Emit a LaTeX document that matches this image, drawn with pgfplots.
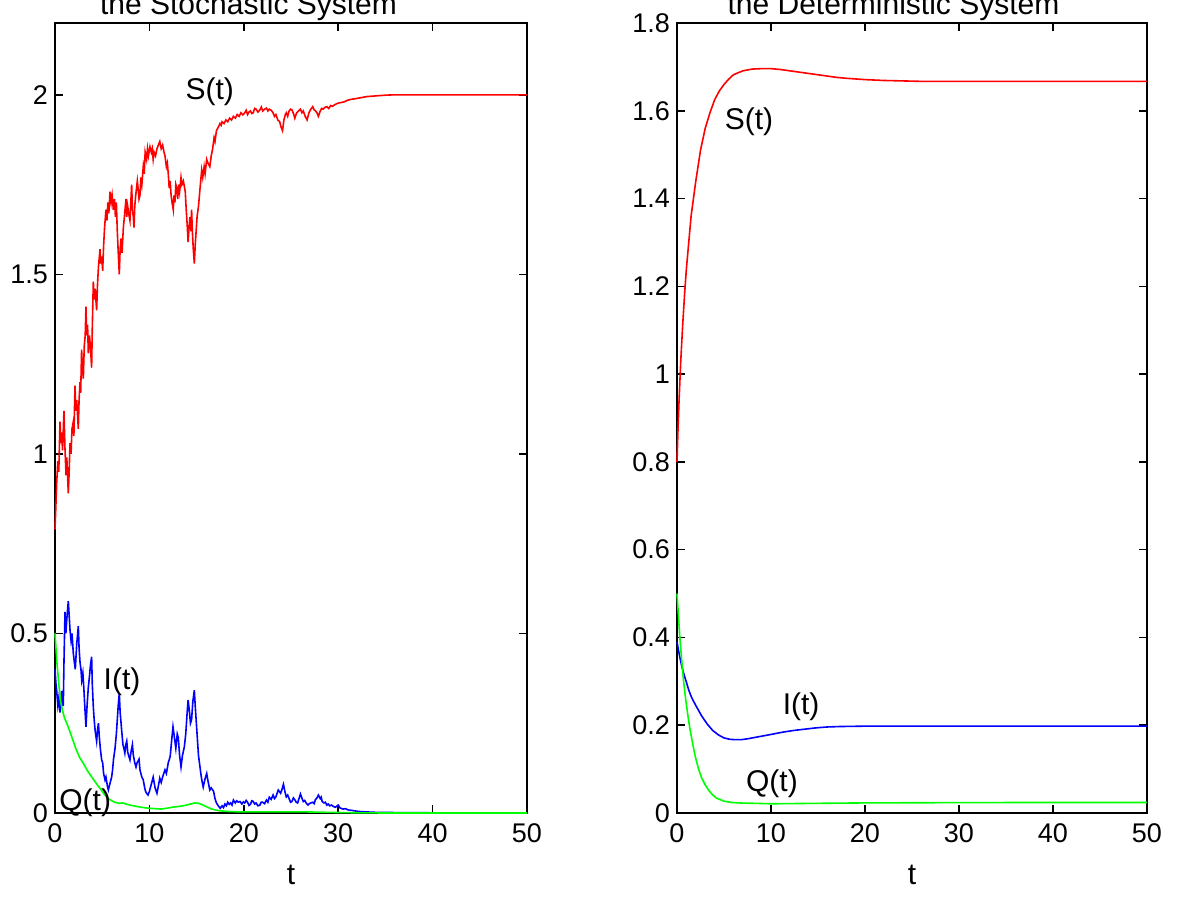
\documentclass[border=0pt]{standalone}
\usepackage{pgfplots}
\pgfplotsset{compat=1.18}
\usepackage{fontspec}
\setmainfont{Liberation Sans}

\definecolor{mred}{rgb}{1,0,0}
\definecolor{mblue}{rgb}{0,0,1}
\definecolor{mgreen}{rgb}{0,1,0}

\pgfplotstableread{
t S
0 0.79
0.1 0.86
0.18 0.92
0.3 0.98
0.4 0.95
0.53 1.09
0.62 1.03
0.7 1.06
0.8 1.01
0.95 1.12
1.05 1.02
1.17 0.94
1.25 0.99
1.41 0.89
1.5 0.95
1.59 1.03
1.7 1.00
1.8 1.07
1.94 1.09
2.0 1.05
2.12 1.19
2.2 1.12
2.3 1.15
2.47 1.07
2.55 1.15
2.65 1.20
2.72 1.17
2.82 1.29
2.9 1.24
3.0 1.21
3.1 1.30
3.2 1.33
3.28 1.41
3.35 1.33
3.45 1.36
3.53 1.28
3.65 1.33
3.75 1.30
3.88 1.24
3.95 1.35
4.06 1.48
4.15 1.43
4.25 1.46
4.41 1.40
4.5 1.47
4.6 1.52
4.77 1.57
4.85 1.53
4.95 1.55
5.05 1.51
5.15 1.58
5.25 1.63
5.40 1.68
5.5 1.65
5.6 1.70
5.7 1.67
5.83 1.73
5.95 1.70
6.05 1.72
6.18 1.68
6.3 1.71
6.4 1.66
6.5 1.70
6.6 1.62
6.7 1.56
6.81 1.50
6.9 1.57
7.0 1.60
7.1 1.56
7.24 1.63
7.35 1.66
7.52 1.71
7.6 1.66
7.7 1.69
7.8 1.67
7.94 1.65
8.03 1.70
8.12 1.75
8.2 1.68
8.3 1.66
8.37 1.63
8.45 1.69
8.55 1.72
8.72 1.76
8.8 1.74
8.9 1.71
9.0 1.72
9.1 1.77
9.2 1.75
9.35 1.80
9.45 1.78
9.55 1.84
9.7 1.82
9.8 1.85
9.9 1.83
10.06 1.855
10.2 1.84
10.3 1.85
10.4 1.82
10.5 1.84
10.65 1.83
10.8 1.85
10.95 1.86
11.1 1.87
11.25 1.85
11.4 1.86
11.55 1.84
11.65 1.83
11.8 1.80
11.9 1.81
12.0 1.78
12.1 1.74
12.2 1.76
12.3 1.72
12.4 1.70
12.53 1.68
12.6 1.72
12.7 1.70
12.8 1.75
12.9 1.74
13.0 1.71
13.1 1.75
13.2 1.73
13.35 1.77
13.45 1.75
13.6 1.76
13.8 1.73
13.9 1.68
14.0 1.64
14.1 1.59
14.2 1.63
14.3 1.66
14.4 1.62
14.47 1.68
14.55 1.62
14.65 1.57
14.76 1.53
14.85 1.58
14.95 1.62
15.05 1.66
15.2 1.69
15.3 1.72
15.4 1.75
15.54 1.79
15.65 1.77
15.8 1.80
15.9 1.78
16.07 1.82
16.2 1.81
16.4 1.80
16.55 1.83
16.7 1.85
16.85 1.88
16.95 1.87
17.1 1.90
17.3 1.91
17.48 1.92
17.6 1.915
17.7 1.925
17.9 1.92
18.1 1.93
18.3 1.925
18.5 1.935
18.7 1.93
18.9 1.94
19.1 1.935
19.3 1.945
19.5 1.94
19.7 1.95
19.9 1.944
20.1 1.95
20.25 1.957
20.4 1.945
20.55 1.952
20.7 1.955
20.85 1.948
21.0 1.95
21.15 1.962
21.3 1.96
21.5 1.952
21.7 1.958
21.85 1.966
22.0 1.955
22.2 1.96
22.4 1.963
22.55 1.955
22.7 1.96
22.9 1.957
23.1 1.95
23.25 1.94
23.4 1.945
23.6 1.93
23.8 1.925
23.95 1.91
24.1 1.90
24.25 1.93
24.4 1.945
24.5 1.95
24.65 1.94
24.8 1.955
24.95 1.96
25.1 1.958
25.3 1.945
25.4 1.935
25.6 1.95
25.8 1.955
26.0 1.96
26.15 1.95
26.3 1.955
26.5 1.94
26.7 1.93
26.9 1.95
27.1 1.96
27.3 1.967
27.45 1.958
27.6 1.955
27.75 1.95
27.9 1.94
28.1 1.955
28.25 1.962
28.4 1.96
28.6 1.965
28.8 1.967
29.0 1.962
29.2 1.97
29.4 1.968
29.6 1.972
29.9 1.976
30.2 1.978
30.6 1.98
31.0 1.985
31.5 1.988
32.0 1.99
33.0 1.995
34.0 1.997
35.0 1.999
36.0 2.0
40 2.0
45 2.0
50 2.0
}\Ssto

\pgfplotstableread{
t I
0 0.40
0.1 0.36
0.18 0.34
0.3 0.30
0.4 0.32
0.53 0.28
0.6 0.31
0.7 0.34
0.8 0.30
0.88 0.30
0.95 0.42
1.06 0.56
1.15 0.50
1.25 0.54
1.41 0.59
1.5 0.55
1.59 0.51
1.7 0.48
1.8 0.50
1.94 0.445
2.05 0.42
2.15 0.40
2.3 0.47
2.47 0.52
2.55 0.46
2.65 0.42
2.75 0.40
2.83 0.37
2.95 0.39
3.05 0.35
3.15 0.30
3.28 0.24
3.4 0.30
3.53 0.35
3.65 0.38
3.75 0.41
3.88 0.435
3.95 0.36
4.06 0.295
4.15 0.26
4.25 0.23
4.41 0.20
4.5 0.23
4.6 0.25
4.7 0.21
4.8 0.18
4.94 0.148
5.05 0.14
5.15 0.11
5.3 0.092
5.4 0.10
5.55 0.075
5.65 0.064
5.8 0.08
6.0 0.10
6.1 0.12
6.2 0.15
6.36 0.18
6.5 0.22
6.6 0.26
6.7 0.30
6.81 0.334
6.9 0.28
7.0 0.25
7.06 0.23
7.2 0.19
7.3 0.18
7.4 0.167
7.5 0.19
7.6 0.20
7.7 0.17
7.8 0.16
7.94 0.148
8.05 0.17
8.2 0.19
8.3 0.16
8.45 0.14
8.58 0.128
8.7 0.14
8.9 0.15
9.0 0.12
9.1 0.11
9.2 0.10
9.35 0.092
9.5 0.07
9.6 0.06
9.7 0.055
9.85 0.05
10.0 0.06
10.2 0.08
10.4 0.10
10.6 0.07
10.8 0.055
10.95 0.075
11.1 0.097
11.25 0.085
11.4 0.10
11.65 0.12
11.8 0.11
12.0 0.14
12.2 0.157
12.35 0.20
12.5 0.24
12.65 0.21
12.8 0.18
12.95 0.22
13.06 0.21
13.2 0.16
13.35 0.128
13.5 0.16
13.7 0.184
13.85 0.22
14.0 0.28
14.1 0.315
14.25 0.28
14.35 0.25
14.47 0.26
14.6 0.31
14.76 0.342
14.85 0.30
15.0 0.24
15.1 0.20
15.2 0.16
15.36 0.128
15.5 0.10
15.6 0.085
15.7 0.072
15.85 0.09
15.95 0.10
16.07 0.11
16.2 0.09
16.4 0.064
16.55 0.07
16.8 0.06
16.95 0.04
17.1 0.028
17.3 0.02
17.5 0.013
17.7 0.02
17.85 0.015
18.0 0.025
18.15 0.02
18.3 0.03
18.45 0.024
18.6 0.028
18.75 0.022
18.9 0.036
19.1 0.028
19.25 0.034
19.4 0.03
19.6 0.032
19.8 0.025
19.95 0.031
20.1 0.028
20.25 0.035
20.4 0.03
20.55 0.021
20.7 0.024
20.85 0.034
21.0 0.032
21.15 0.025
21.3 0.028
21.5 0.02
21.7 0.022
21.85 0.03
22.0 0.03
22.2 0.026
22.4 0.036
22.55 0.03
22.7 0.044
22.9 0.038
23.1 0.05
23.25 0.04
23.4 0.045
23.65 0.064
23.9 0.055
24.05 0.066
24.2 0.08
24.35 0.06
24.5 0.045
24.65 0.05
24.8 0.04
24.95 0.03
25.1 0.032
25.25 0.042
25.4 0.037
25.55 0.03
25.7 0.028
25.85 0.04
26.0 0.053
26.15 0.042
26.3 0.032
26.45 0.035
26.6 0.028
26.8 0.022
26.95 0.026
27.1 0.028
27.3 0.03
27.45 0.026
27.6 0.038
27.75 0.042
27.9 0.05
28.1 0.04
28.2 0.044
28.3 0.032
28.5 0.028
28.65 0.03
28.8 0.022
28.95 0.025
29.1 0.02
29.3 0.022
29.5 0.018
29.7 0.016
30.0 0.022
30.2 0.014
30.5 0.011
30.8 0.012
31.0 0.009
31.2 0.008
31.5 0.007
31.7 0.006
32.0 0.005
32.3 0.004
33.0 0.003
33.7 0.002
35.0 0.0015
36.5 0.001
40 0.0005
45 0.0002
50 0.0
}\Isto

\pgfplotstableread{
t Q
0 0.5
0.2 0.42
0.4 0.36
0.6 0.31
0.8 0.285
1.0 0.265
1.4 0.24
1.8 0.21
2.2 0.18
2.6 0.155
3.05 0.136
3.5 0.115
3.9 0.10
4.3 0.085
4.7 0.071
5.2 0.053
5.7 0.039
6.3 0.030
6.8 0.027
7.2 0.028
7.5 0.025
8.1 0.021
8.7 0.018
9.4 0.015
10 0.013
10.6 0.012
11.2 0.011
11.8 0.013
12.4 0.016
13.0 0.018
13.6 0.020
14.2 0.024
14.8 0.028
15.2 0.027
15.6 0.023
16.0 0.018
16.6 0.011
17.3 0.0065
18.0 0.005
18.5 0.004
20 0.003
22.6 0.003
26.6 0.003
28.5 0.002
30.7 0.001
33 0.0003
35 0
50 0
}\Qsto

\pgfplotstableread{
t S
0 0.80
0.1 0.87
0.2 0.93
0.3 0.98
0.4 1.03
0.6 1.11
0.8 1.18
1.0 1.24
1.25 1.30
1.5 1.36
1.75 1.40
2.0 1.44
2.5 1.51
3.0 1.56
3.5 1.595
4.0 1.625
4.5 1.645
5.0 1.66
5.5 1.672
6.0 1.682
7.0 1.691
8.0 1.695
9.0 1.696
10.0 1.696
11.0 1.694
12.0 1.691
13.0 1.688
14.0 1.685
15.0 1.682
16.0 1.679
17.0 1.676
18.0 1.674
20.0 1.671
22.0 1.669
24.0 1.668
26.0 1.667
30 1.667
40 1.667
50 1.667
}\Sdet

\pgfplotstableread{
t I
0 0.39
0.25 0.36
0.5 0.335
0.75 0.315
1.0 0.298
1.25 0.28
1.5 0.266
1.75 0.255
2.0 0.245
2.6 0.222
3.2 0.203
3.8 0.188
4.4 0.178
5.0 0.171
5.6 0.168
6.2 0.167
6.8 0.167
7.5 0.169
8.5 0.173
10 0.179
11.2 0.184
12.4 0.188
13.6 0.191
14.8 0.194
16 0.196
17.3 0.197
20.5 0.198
25 0.198
30 0.198
40 0.198
50 0.198
}\Idet

\pgfplotstableread{
t Q
0 0.50
0.15 0.45
0.3 0.40
0.5 0.348
0.7 0.30
0.94 0.256
1.15 0.223
1.35 0.195
1.65 0.16
1.96 0.127
2.3 0.10
2.6 0.081
3.0 0.064
3.4 0.051
3.8 0.041
4.2 0.034
5.0 0.027
5.8 0.024
7 0.0225
8.3 0.022
10 0.021
15 0.022
20 0.023
30 0.0236
40 0.024
50 0.024
}\Qdet

\tikzset{lbl/.style={font=\fontsize{15}{18}\selectfont}}
\pgfplotsset{
  mstyle/.style={
    scale only axis, anchor=south west,
    xmin=0, xmax=50, xtick={0,10,20,30,40,50},
    axis line style={line width=0.8pt},
    tick style={black, line width=0.8pt},
    major tick length=4pt,
    tick align=inside,
    /pgf/number format/assume math mode=true,
    ticklabel style={font=\fontsize{13.5}{15}\selectfont},
    xticklabel style={yshift=-2pt},
    xlabel={t},
    xlabel style={font=\fontsize{15}{18}\selectfont, yshift=-4pt},
    every axis plot/.append style={line width=0.8pt, mark=none},
    clip=false,
  },
}

\begin{document}
\begin{tikzpicture}
\useasboundingbox (0,0) rectangle (600pt,451.5pt);
\begin{axis}[mstyle, at={(27.5pt,45pt)}, width=236pt, height=395pt,
  ymin=0, ymax=2.2, ytick={0,0.5,1,1.5,2}]
  \addplot[mred] table[x=t,y=S] {\Ssto};
  \addplot[mblue] table[x=t,y=I] {\Isto};
  \addplot[mgreen] table[x=t,y=Q] {\Qsto};
  \node[lbl] at (axis cs:16.4,2.008) {S(t)};
  \node[lbl] at (axis cs:7.1,0.365) {I(t)};
  \node[lbl] at (axis cs:3.2,0.028) {Q(t)};
\end{axis}
\begin{axis}[mstyle, at={(338.5pt,45pt)}, width=235pt, height=395pt,
  ymin=0, ymax=1.8, ytick={0,0.2,0.4,0.6,0.8,1,1.2,1.4,1.6,1.8}]
  \addplot[mred] table[x=t,y=S] {\Sdet};
  \addplot[mblue] table[x=t,y=I] {\Idet};
  \addplot[mgreen] table[x=t,y=Q] {\Qdet};
  \node[lbl] at (axis cs:7.66,1.574) {S(t)};
  \node[lbl] at (axis cs:13.2,0.241) {I(t)};
  \node[lbl] at (axis cs:10.1,0.066) {Q(t)};
\end{axis}
\node[lbl, anchor=base] at (124.25pt,444pt) {the Stochastic System};
\node[lbl, anchor=base] at (446.75pt,444pt) {the Deterministic System};
\end{tikzpicture}
\end{document}
